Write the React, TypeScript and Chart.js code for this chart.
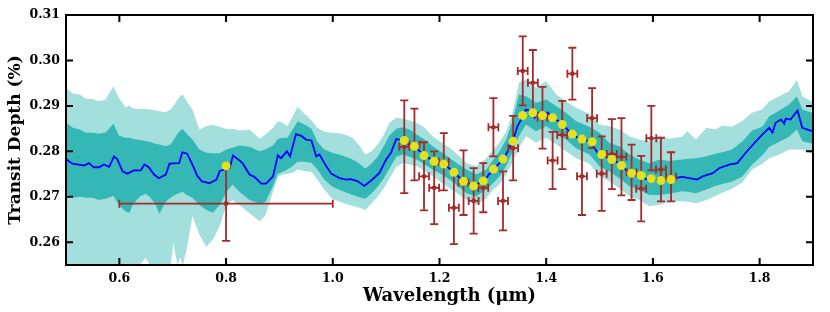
import { useEffect, useRef } from 'react';
import { Chart, registerables } from 'chart.js';

Chart.register(...registerables);

// ---- model spectrum (blue line) ----
const modelWave = [
  0.500, 0.512, 0.524, 0.534, 0.543, 0.552, 0.562, 0.571, 0.581, 0.590,
  0.596, 0.606, 0.615, 0.627, 0.640, 0.647, 0.655, 0.665, 0.674, 0.687,
  0.694, 0.712, 0.718, 0.727, 0.737, 0.746, 0.755, 0.769, 0.782, 0.788,
  0.797, 0.807, 0.813, 0.822, 0.831, 0.844, 0.853, 0.866, 0.875, 0.888,
  0.897, 0.903, 0.914, 0.920, 0.931, 0.941, 0.950, 0.960, 0.969, 0.975,
  0.988, 0.997, 1.013, 1.025, 1.034, 1.047, 1.059, 1.072, 1.087, 1.100,
  1.109, 1.119, 1.125, 1.134, 1.144, 1.153, 1.172, 1.190, 1.209, 1.227,
  1.245, 1.264, 1.283, 1.301, 1.320, 1.337, 1.346, 1.356, 1.362, 1.372,
  1.378, 1.384, 1.403, 1.412, 1.428, 1.443, 1.459, 1.481, 1.499, 1.518,
  1.537, 1.556, 1.574, 1.593, 1.612, 1.634, 1.655, 1.683, 1.693, 1.712,
  1.724, 1.743, 1.758, 1.774, 1.793, 1.805, 1.818, 1.824, 1.830, 1.840,
  1.846, 1.849, 1.858, 1.871, 1.880, 1.890, 1.900,
];
const modelDepth = [
  0.2783, 0.2773, 0.2771, 0.2769, 0.2774, 0.2765, 0.2765, 0.2771, 0.2766, 0.2789,
  0.2783, 0.2756, 0.2751, 0.2758, 0.2758, 0.2771, 0.2765, 0.2749, 0.2741, 0.2749,
  0.2773, 0.2774, 0.2798, 0.2795, 0.2771, 0.2746, 0.2734, 0.2730, 0.2738, 0.2757,
  0.2760, 0.2764, 0.2791, 0.2783, 0.2774, 0.2749, 0.2744, 0.2729, 0.2729, 0.2745,
  0.2791, 0.2785, 0.2800, 0.2789, 0.2838, 0.2834, 0.2826, 0.2824, 0.2789, 0.2793,
  0.2767, 0.2751, 0.2741, 0.2738, 0.2739, 0.2734, 0.2724, 0.2736, 0.2752, 0.2782,
  0.2797, 0.2827, 0.2826, 0.2824, 0.2813, 0.2811, 0.2791, 0.2778, 0.2772, 0.2754,
  0.2734, 0.2724, 0.2735, 0.2761, 0.2783, 0.2821, 0.2855, 0.2877, 0.2892, 0.2888,
  0.2874, 0.2885, 0.2885, 0.2874, 0.2863, 0.2844, 0.2830, 0.2822, 0.2793, 0.2785,
  0.2774, 0.2752, 0.2745, 0.2737, 0.2738, 0.2740, 0.2744, 0.2738, 0.2745, 0.2752,
  0.2763, 0.2771, 0.2774, 0.2797, 0.2822, 0.2837, 0.2852, 0.2841, 0.2863, 0.2870,
  0.2861, 0.2872, 0.2870, 0.2890, 0.2852, 0.2848, 0.2844,
];

// ---- confidence bands ----
const bandWave = [
  0.500, 0.513, 0.526, 0.537, 0.550, 0.561, 0.574, 0.589, 0.599, 0.612,
  0.619, 0.625, 0.638, 0.649, 0.657, 0.668, 0.675, 0.687, 0.696, 0.701,
  0.709, 0.714, 0.719, 0.726, 0.737, 0.750, 0.763, 0.775, 0.788, 0.801,
  0.812, 0.825, 0.844, 0.863, 0.874, 0.888, 0.897, 0.906, 0.915, 0.925,
  0.934, 0.947, 0.960, 0.971, 0.984, 0.999, 1.018, 1.037, 1.050, 1.061,
  1.072, 1.084, 1.095, 1.106, 1.119, 1.131, 1.144, 1.157, 1.172, 1.187,
  1.204, 1.219, 1.234, 1.251, 1.269, 1.288, 1.301, 1.312, 1.325, 1.336,
  1.349, 1.362, 1.381, 1.400, 1.419, 1.437, 1.456, 1.481, 1.500, 1.518,
  1.537, 1.556, 1.574, 1.593, 1.612, 1.630, 1.655, 1.664, 1.681, 1.700,
  1.717, 1.730, 1.748, 1.767, 1.786, 1.805, 1.818, 1.837, 1.855, 1.870,
  1.880, 1.900,
];
const band2Upper = [
  0.2940, 0.2927, 0.2925, 0.2916, 0.2916, 0.2910, 0.2914, 0.2943, 0.2918, 0.2896,
  0.2901, 0.2895, 0.2893, 0.2894, 0.2892, 0.2890, 0.2888, 0.2886, 0.2892, 0.2899,
  0.2914, 0.2921, 0.2925, 0.2910, 0.2892, 0.2848, 0.2856, 0.2858, 0.2854, 0.2849,
  0.2850, 0.2846, 0.2848, 0.2828, 0.2837, 0.2852, 0.2866, 0.2863, 0.2856, 0.2877,
  0.2898, 0.2883, 0.2868, 0.2852, 0.2843, 0.2841, 0.2839, 0.2830, 0.2813, 0.2793,
  0.2799, 0.2815, 0.2835, 0.2863, 0.2874, 0.2872, 0.2868, 0.2863, 0.2852, 0.2833,
  0.2819, 0.2808, 0.2793, 0.2774, 0.2767, 0.2785, 0.2804, 0.2819, 0.2843, 0.2881,
  0.2951, 0.2958, 0.2940, 0.2954, 0.2925, 0.2910, 0.2896, 0.2883, 0.2859, 0.2855,
  0.2848, 0.2833, 0.2826, 0.2822, 0.2833, 0.2828, 0.2832, 0.2844, 0.2826, 0.2852,
  0.2848, 0.2857, 0.2854, 0.2866, 0.2885, 0.2892, 0.2910, 0.2921, 0.2932, 0.2957,
  0.2921, 0.2908,
];
const band1Upper = [
  0.2863, 0.2852, 0.2848, 0.2841, 0.2841, 0.2839, 0.2841, 0.2861, 0.2835, 0.2830,
  0.2830, 0.2828, 0.2825, 0.2823, 0.2821, 0.2817, 0.2815, 0.2811, 0.2815, 0.2824,
  0.2839, 0.2846, 0.2849, 0.2839, 0.2826, 0.2804, 0.2797, 0.2796, 0.2796, 0.2804,
  0.2808, 0.2813, 0.2810, 0.2800, 0.2804, 0.2813, 0.2827, 0.2830, 0.2830, 0.2848,
  0.2866, 0.2859, 0.2850, 0.2821, 0.2804, 0.2797, 0.2791, 0.2782, 0.2773, 0.2762,
  0.2773, 0.2788, 0.2810, 0.2835, 0.2850, 0.2853, 0.2848, 0.2837, 0.2826, 0.2811,
  0.2798, 0.2785, 0.2773, 0.2760, 0.2749, 0.2760, 0.2782, 0.2799, 0.2826, 0.2863,
  0.2925, 0.2921, 0.2907, 0.2914, 0.2899, 0.2885, 0.2866, 0.2854, 0.2841, 0.2819,
  0.2811, 0.2793, 0.2782, 0.2774, 0.2782, 0.2779, 0.2782, 0.2783, 0.2785, 0.2789,
  0.2795, 0.2798, 0.2804, 0.2821, 0.2846, 0.2854, 0.2877, 0.2890, 0.2903, 0.2921,
  0.2892, 0.2884,
];
const band1Lower = [
  0.2707, 0.2698, 0.2700, 0.2698, 0.2698, 0.2693, 0.2696, 0.2702, 0.2682, 0.2667,
  0.2665, 0.2682, 0.2700, 0.2707, 0.2700, 0.2682, 0.2663, 0.2689, 0.2698, 0.2702,
  0.2707, 0.2709, 0.2711, 0.2704, 0.2698, 0.2682, 0.2671, 0.2665, 0.2682, 0.2711,
  0.2727, 0.2711, 0.2693, 0.2685, 0.2689, 0.2724, 0.2751, 0.2755, 0.2760, 0.2768,
  0.2777, 0.2777, 0.2775, 0.2760, 0.2738, 0.2722, 0.2713, 0.2704, 0.2699, 0.2696,
  0.2707, 0.2722, 0.2740, 0.2762, 0.2788, 0.2793, 0.2788, 0.2782, 0.2771, 0.2760,
  0.2749, 0.2738, 0.2724, 0.2708, 0.2701, 0.2716, 0.2731, 0.2744, 0.2768, 0.2797,
  0.2833, 0.2859, 0.2844, 0.2855, 0.2841, 0.2826, 0.2807, 0.2793, 0.2767, 0.2756,
  0.2741, 0.2723, 0.2716, 0.2704, 0.2704, 0.2707, 0.2712, 0.2711, 0.2708, 0.2716,
  0.2724, 0.2728, 0.2733, 0.2744, 0.2771, 0.2791, 0.2810, 0.2821, 0.2832, 0.2848,
  0.2822, 0.2817,
];
const band2Lower = [
  0.2550, 0.2550, 0.2550, 0.2550, 0.2550, 0.2550, 0.2550, 0.2550, 0.2550, 0.2550,
  0.2550, 0.2550, 0.2550, 0.2566, 0.2550, 0.2550, 0.2550, 0.2550, 0.2550, 0.2599,
  0.2550, 0.2566, 0.2550, 0.2583, 0.2658, 0.2616, 0.2590, 0.2605, 0.2635, 0.2682,
  0.2693, 0.2682, 0.2664, 0.2646, 0.2660, 0.2711, 0.2744, 0.2749, 0.2751, 0.2753,
  0.2760, 0.2757, 0.2755, 0.2738, 0.2716, 0.2696, 0.2687, 0.2680, 0.2676, 0.2671,
  0.2685, 0.2700, 0.2718, 0.2740, 0.2766, 0.2774, 0.2771, 0.2767, 0.2757, 0.2745,
  0.2731, 0.2719, 0.2707, 0.2693, 0.2682, 0.2697, 0.2716, 0.2727, 0.2749, 0.2775,
  0.2808, 0.2833, 0.2819, 0.2830, 0.2815, 0.2800, 0.2785, 0.2773, 0.2745, 0.2734,
  0.2719, 0.2701, 0.2693, 0.2679, 0.2682, 0.2689, 0.2690, 0.2689, 0.2686, 0.2693,
  0.2702, 0.2709, 0.2718, 0.2731, 0.2760, 0.2773, 0.2785, 0.2793, 0.2804, 0.2804,
  0.2804, 0.2794,
];

// ---- observed transit depths ----
const dataWave = [
  0.800, 1.134, 1.153, 1.171, 1.190, 1.208, 1.227, 1.245, 1.264, 1.282,
  1.301, 1.319, 1.338, 1.356, 1.375, 1.393, 1.412, 1.430, 1.449, 1.467,
  1.486, 1.504, 1.523, 1.541, 1.560, 1.578, 1.597, 1.615, 1.634,
];
const dataWaveErr = [
  0.200, 0.0093, 0.0093, 0.0093, 0.0093, 0.0093, 0.0093, 0.0093, 0.0093, 0.0093,
  0.0093, 0.0093, 0.0093, 0.0093, 0.0093, 0.0093, 0.0093, 0.0093, 0.0093, 0.0093,
  0.0093, 0.0093, 0.0093, 0.0093, 0.0093, 0.0093, 0.0093, 0.0093, 0.0093,
];
const dataDepth = [
  0.2685, 0.2810, 0.2815, 0.2745, 0.2720, 0.2777, 0.2676, 0.2731, 0.2691, 0.2720,
  0.2853, 0.2691, 0.2807, 0.2977, 0.2951, 0.2874, 0.2780, 0.2836, 0.2971, 0.2745,
  0.2873, 0.2751, 0.2794, 0.2788, 0.2754, 0.2718, 0.2829, 0.2760, 0.2744,
];
const dataErr = [
  0.0082, 0.0102, 0.0079, 0.0075, 0.0080, 0.0063, 0.0080, 0.0071, 0.0072, 0.0054,
  0.0064, 0.0065, 0.0071, 0.0076, 0.0072, 0.0068, 0.0063, 0.0075, 0.0057, 0.0085,
  0.0066, 0.0082, 0.0077, 0.0085, 0.0061, 0.0072, 0.0071, 0.0070, 0.0054,
];
// ---- binned model (yellow) ----
const binDepth = [
  0.2768, 0.2824, 0.2811, 0.2791, 0.2778, 0.2772, 0.2754, 0.2734, 0.2724, 0.2735,
  0.2761, 0.2783, 0.2822, 0.2879, 0.2885, 0.2879, 0.2874, 0.2859, 0.2838, 0.2827,
  0.2821, 0.2793, 0.2782, 0.2769, 0.2752, 0.2747, 0.2740, 0.2736, 0.2738,
];

const xTicks = [0.6, 0.8, 1.0, 1.2, 1.4, 1.6, 1.8];
const yTicks = [0.26, 0.27, 0.28, 0.29, 0.3, 0.31];

const LIGHT = '#a3dfdc';
const DARK = '#35b8b5';
const BLUE = '#0000ff';
const RED = '#a52a2a';
const YELLOW = '#e2e21e';
const FONT = '"DejaVu Serif", serif';
const NONE = 'rgba(0,0,0,0)';

const xy = (xs: number[], ys: number[]) => xs.map((x, i) => ({ x, y: ys[i] }));

const clipPlugin = {
  id: 'clipToArea',
  beforeDatasetsDraw(chart: any) {
    const { ctx, chartArea: a } = chart;
    ctx.save();
    ctx.beginPath();
    ctx.rect(a.left, a.top, a.right - a.left, a.bottom - a.top);
    ctx.clip();
  },
  afterDatasetsDraw(chart: any) {
    chart.ctx.restore();
  },
};

const errorBarPlugin = {
  id: 'errorBars',
  afterDatasetDraw(chart: any, args: any) {
    if (chart.data.datasets[args.index].label !== 'model') return;
    const { ctx } = chart;
    const xs = chart.scales.x;
    const ys = chart.scales.y;
    ctx.save();
    ctx.strokeStyle = RED;
    ctx.lineWidth = 1.8;
    dataWave.forEach((w, i) => {
      const px = xs.getPixelForValue(w);
      const py = ys.getPixelForValue(dataDepth[i]);
      const yt = ys.getPixelForValue(dataDepth[i] + dataErr[i]);
      const yb = ys.getPixelForValue(dataDepth[i] - dataErr[i]);
      const xl = xs.getPixelForValue(w - dataWaveErr[i]);
      const xr = xs.getPixelForValue(w + dataWaveErr[i]);
      const c = 4;
      ctx.beginPath();
      ctx.moveTo(px, yt); ctx.lineTo(px, yb);
      ctx.moveTo(xl, py); ctx.lineTo(xr, py);
      ctx.moveTo(px - c, yt); ctx.lineTo(px + c, yt);
      ctx.moveTo(px - c, yb); ctx.lineTo(px + c, yb);
      ctx.moveTo(xl, py - c); ctx.lineTo(xl, py + c);
      ctx.moveTo(xr, py - c); ctx.lineTo(xr, py + c);
      ctx.stroke();
    });
    ctx.restore();
  },
};

const framePlugin = {
  id: 'frame',
  afterDraw(chart: any) {
    const { ctx, chartArea: a } = chart;
    const xs = chart.scales.x;
    const ys = chart.scales.y;
    ctx.save();
    ctx.strokeStyle = '#000';
    ctx.lineWidth = 2;
    ctx.strokeRect(a.left, a.top, a.right - a.left, a.bottom - a.top);
    ctx.beginPath();
    const t = 7;
    xTicks.forEach((v) => {
      const p = xs.getPixelForValue(v);
      ctx.moveTo(p, a.bottom); ctx.lineTo(p, a.bottom - t);
      ctx.moveTo(p, a.top); ctx.lineTo(p, a.top + t);
    });
    yTicks.forEach((v) => {
      const p = ys.getPixelForValue(v);
      ctx.moveTo(a.left, p); ctx.lineTo(a.left + t, p);
      ctx.moveTo(a.right, p); ctx.lineTo(a.right - t, p);
    });
    ctx.stroke();
    ctx.fillStyle = '#000';
    ctx.textAlign = 'center';
    ctx.textBaseline = 'middle';
    ctx.font = `bold 18px ${FONT}`;
    ctx.fillText('Wavelength (\u03bcm)', (a.left + a.right) / 2 + 10, a.bottom + 31);
    ctx.font = `bold 17px ${FONT}`;
    ctx.translate(16, (a.top + a.bottom) / 2);
    ctx.rotate(-Math.PI / 2);
    ctx.fillText('Transit Depth (%)', 0, 0);
    ctx.restore();
  },
};

export default function App() {
  const ref = useRef<HTMLCanvasElement>(null);
  useEffect(() => {
    document.body.style.margin = '0';
    const tickFont = { family: FONT, weight: 'bold' as const, size: 12.5 };
    const chart = new Chart(ref.current as HTMLCanvasElement, {
      type: 'line',
      data: {
        datasets: [
          { label: 'band2Lower', data: xy(bandWave, band2Lower), borderColor: NONE, borderWidth: 0, pointRadius: 0, fill: false, order: 10 },
          { label: 'band2Upper', data: xy(bandWave, band2Upper), borderColor: NONE, borderWidth: 0, pointRadius: 0, fill: '-1', backgroundColor: LIGHT, order: 10 },
          { label: 'band1Lower', data: xy(bandWave, band1Lower), borderColor: NONE, borderWidth: 0, pointRadius: 0, fill: false, order: 8 },
          { label: 'band1Upper', data: xy(bandWave, band1Upper), borderColor: NONE, borderWidth: 0, pointRadius: 0, fill: '-1', backgroundColor: DARK, order: 8 },
          { label: 'model', data: xy(modelWave, modelDepth), borderColor: BLUE, borderWidth: 1.8, pointRadius: 0, fill: false, order: 5 },
          { label: 'data', data: xy(dataWave, dataDepth), showLine: false, pointRadius: 2.3, backgroundColor: RED, borderColor: RED, borderWidth: 0, order: 2 },
          { label: 'binned', data: xy(dataWave, binDepth), showLine: false, pointRadius: 4.5, backgroundColor: YELLOW, borderColor: YELLOW, borderWidth: 0, order: 1 },
        ] as any,
      },
      options: {
        responsive: false,
        animation: false,
        devicePixelRatio: 1,
        events: [],
        layout: { padding: { left: 0, right: 17, top: 15, bottom: 0 } },
        plugins: { legend: { display: false }, tooltip: { enabled: false } },
        scales: {
          x: {
            type: 'linear',
            min: 0.5,
            max: 1.9,
            grid: { display: false, drawTicks: false },
            border: { display: false },
            afterBuildTicks: (s: any) => { s.ticks = xTicks.map((v) => ({ value: v })); },
            afterFit: (s: any) => { s.height = 47; },
            ticks: { font: tickFont, color: '#000', padding: 6, maxRotation: 0, callback: (v: any) => Number(v).toFixed(1) },
          },
          y: {
            type: 'linear',
            min: 0.255,
            max: 0.31,
            grid: { display: false, drawTicks: false },
            border: { display: false },
            afterBuildTicks: (s: any) => { s.ticks = yTicks.map((v) => ({ value: v })); },
            afterFit: (s: any) => { s.width = 66; },
            ticks: { font: tickFont, color: '#000', padding: 6, callback: (v: any) => Number(v).toFixed(2) },
          },
        },
      },
      plugins: [clipPlugin, errorBarPlugin, framePlugin],
    } as any);
    return () => chart.destroy();
  }, []);
  return <canvas ref={ref} width={830} height={312} style={{ display: 'block', width: 830, height: 312 }} />;
}
